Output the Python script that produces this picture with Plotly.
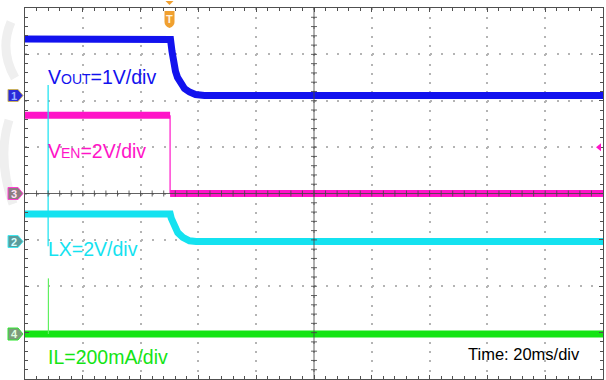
import plotly.graph_objects as go

# ---------------- scope settings ----------------
N_DIV_X, N_DIV_Y = 10, 8
T_DIV = 20.0                 # ms per division
T_START = -50.0              # ms at the left graticule edge (trigger at t = 0)
T_END = T_START + N_DIV_X * T_DIV

# ---------------- captured waveforms (t in ms, relative to trigger) ----------------
vout_t = [-50, 0.35, 0.87, 1.38, 2.08, 2.77, 3.81, 5.19, 6.92, 9.0, 12.1, 150]
vout_v = [1.22, 1.21, 0.95, 0.71, 0.52, 0.39, 0.26, 0.15, 0.075, 0.02, 0.0, 0.0]

ven_high_t = [-50, 0.2]
ven_high_v = [3.37, 3.37]
ven_low_t = [0.2, 150]
ven_low_v = [0.0, 0.0]
ven_edge_t = [0.2, 0.2]
ven_edge_v = [3.37, 0.0]

lx_t = [-50, 0.24, 0.59, 1.73, 2.87, 4.6, 6.92, 9.2, 150]
lx_v = [1.19, 1.19, 1.01, 0.64, 0.38, 0.18, 0.03, 0.0, 0.0]
lx_spike_t = [-42.0, -42.0]
lx_spike_v = [6.75, -0.2]

il_t = [-50, 150]
il_a = [0.0, 0.0]
il_spike_t = [-41.9, -41.9]
il_spike_a = [0.24, 0.0]

ven_trigger_level = 2.0

# channel setup: vertical scale (units/div), ground offset (div from centre), colour
CH = {
    "1": dict(axis="y2", scale=1.0, offset=2.113, color="#1212ee",
              tag="#2a2ad8", tagline="#c8b060", num="#9fb4ff"),
    "2": dict(axis="y3", scale=2.0, offset=-1.035, color="#14e2f0",
              tag="#5a9c9c", tagline="#40e8f0", num="#d8ffff"),
    "3": dict(axis="y", scale=2.0, offset=0.0, color="#ff14c8",
              tag="#8c7c80", tagline="#ff40d0", num="#ffe0f4"),
    "4": dict(axis="y4", scale=0.2, offset=-3.03, color="#14e414",
              tag="#7c9c7c", tagline="#30e830", num="#e0ffe0"),
}


def ax_range(ch):
    s, o = ch["scale"], ch["offset"]
    return [(-N_DIV_Y / 2 - o) * s, (N_DIV_Y / 2 - o) * s]


BAND = 7  # trace thickness (noise band) in px

fig = go.Figure()


def add(t, v, ch, width):
    fig.add_trace(go.Scatter(x=t, y=v, mode="lines", yaxis=ch["axis"],
                             line=dict(color=ch["color"], width=width),
                             hoverinfo="skip", showlegend=False))


# CH3 enable
add(ven_high_t, ven_high_v, CH["3"], BAND)
add(ven_low_t, ven_low_v, CH["3"], BAND)
add(ven_edge_t, ven_edge_v, CH["3"], 1.2)
# CH2 switch node
add(lx_t, lx_v, CH["2"], BAND)
add(lx_spike_t, lx_spike_v, CH["2"], 1.2)
# CH4 inductor current
add(il_t, il_a, CH["4"], BAND)
add(il_spike_t, il_spike_a, dict(CH["4"], color="#60f060"), 1.2)
# CH1 output voltage
add(vout_t, vout_v, CH["1"], BAND)

# ---------------- graticule ----------------
FRAME = "#505050"
GRID = "#b4b4b4"
frame_common = dict(showline=True, linecolor=FRAME, linewidth=1, mirror="ticks",
                    ticks="inside", ticklen=4, tickcolor=FRAME,
                    showticklabels=False, zeroline=False,
                    showgrid=True, gridcolor=GRID, gridwidth=2)

fig.update_layout(
    width=606, height=380,
    margin=dict(l=25, r=3, t=8, b=1),
    paper_bgcolor="white", plot_bgcolor="white",
    xaxis=dict(range=[T_START, T_END], tick0=T_START, dtick=T_DIV,
               griddash="2px,7.275px",
               minor=dict(ticks="inside", ticklen=3, tickcolor=FRAME,
                          tick0=T_START, dtick=T_DIV / 5, showgrid=False),
               **frame_common),
    yaxis=dict(range=ax_range(CH["3"]), tick0=0, dtick=CH["3"]["scale"],
               griddash="2px,9.56px",
               minor=dict(ticks="inside", ticklen=3, tickcolor=FRAME,
                          tick0=0, dtick=CH["3"]["scale"] / 5, showgrid=False),
               **frame_common),
    yaxis2=dict(range=ax_range(CH["1"]), overlaying="y", visible=False),
    yaxis3=dict(range=ax_range(CH["2"]), overlaying="y", visible=False),
    yaxis4=dict(range=ax_range(CH["4"]), overlaying="y", visible=False),
)

shapes = []

# faint background logo strokes in the left margin
for path in ["M -14,-14 Q -26,-42 -10,-70", "M -16,-112 Q -28,-150 -12,-196"]:
    shapes.append(dict(type="path", xref="paper", xanchor=0, xsizemode="pixel",
                       yref="paper", yanchor=1, ysizemode="pixel", path=path,
                       line=dict(color="#efefef", width=9), layer="below"))

t_mid = (T_START + T_END) / 2
CENTER = "rgba(70,70,70,0.85)"
shapes.append(dict(type="line", xref="x", yref="paper", x0=t_mid, x1=t_mid, y0=0, y1=1,
                   line=dict(color=CENTER, width=1), layer="above"))
shapes.append(dict(type="line", xref="paper", yref="y", x0=0, x1=1, y0=0, y1=0,
                   line=dict(color=CENTER, width=1), layer="above"))
# minor ticks on the centre cross
for k in range(1, N_DIV_X * 5):
    t = T_START + k * T_DIV / 5
    shapes.append(dict(type="line", xref="x", yref="y", ysizemode="pixel", yanchor=0,
                       x0=t, x1=t, y0=-3, y1=3,
                       line=dict(color=CENTER, width=1), layer="above"))
for k in range(1, N_DIV_Y * 5):
    v = ax_range(CH["3"])[0] + k * CH["3"]["scale"] / 5
    shapes.append(dict(type="line", xref="x", yref="y", xsizemode="pixel", xanchor=t_mid,
                       x0=-3, x1=3, y0=v, y1=v,
                       line=dict(color=CENTER, width=1), layer="above"))

annotations = []
# channel ground markers on the left edge
for name, ch in CH.items():
    shapes.append(dict(type="path", xref="paper", xanchor=0, xsizemode="pixel",
                       yref=ch["axis"], yanchor=0, ysizemode="pixel",
                       path="M -17,6 L -7,6 L -2,0 L -7,-6 L -17,-6 Z",
                       fillcolor=ch["tag"], line=dict(color=ch["tagline"], width=1),
                       layer="above"))
    annotations.append(dict(text="<b>%s</b>" % name, xref="paper", x=0, xshift=-11,
                            yref=ch["axis"], y=0, showarrow=False,
                            font=dict(family="Arial, Liberation Sans", size=11, color=ch["num"]),
                            xanchor="center", yanchor="middle"))

# trigger position marker
TRIG = "#f0a030"
shapes.append(dict(type="path", xref="x", xanchor=0, xsizemode="pixel",
                   yref="paper", yanchor=1, ysizemode="pixel",
                   path="M -4,7 L 4,7 L 0,3 Z", fillcolor=TRIG, line=dict(width=0),
                   layer="above"))
shapes.append(dict(type="path", xref="x", xanchor=0, xsizemode="pixel",
                   yref="paper", yanchor=1, ysizemode="pixel",
                   path="M -5,-3 L 5,-3 L 5,-14 Q 5,-18 0,-20 Q -5,-18 -5,-14 Z",
                   fillcolor=TRIG, line=dict(width=0), layer="above"))
annotations.append(dict(text="<b>T</b>", xref="x", x=0, yref="paper", y=1, yshift=-11,
                        showarrow=False, xanchor="center", yanchor="middle",
                        font=dict(family="Arial, Liberation Sans", size=11, color="#fff4e0")))

# trigger level marker on CH3
shapes.append(dict(type="path", xref="paper", xanchor=1, xsizemode="pixel",
                   yref="y", yanchor=ven_trigger_level, ysizemode="pixel",
                   path="M -7,0 L -2,4 L -2,-4 Z", fillcolor=CH["3"]["color"],
                   line=dict(width=0), layer="above"))

# ---------------- labels ----------------
PL, PW, PB, PH = 25, 578, 379, 371


def px(x):
    return (x - PL) / PW


def py(y):
    return (PB - y) / PH


FONT = "Arial, Liberation Sans, sans-serif"
labels = [
    ('V<span style="font-size:14px">OUT</span>=1V/div', 46, 77, CH["1"]["color"], 19.5),
    ('V<span style="font-size:14px">EN</span>=2V/div', 46, 151, CH["3"]["color"], 19.5),
    ("LX=2V/div", 46, 249, CH["2"]["color"], 19.5),
    ("IL=200mA/div", 46, 357, CH["4"]["color"], 19.5),
    ("Time: 20ms/div", 466, 354, "#000000", 16.5),
]
for text, x, y, color, size in labels:
    annotations.append(dict(text=text, xref="paper", yref="paper", x=px(x), y=py(y),
                            xanchor="left", yanchor="middle", showarrow=False,
                            font=dict(family=FONT, size=size, color=color)))

fig.update_layout(shapes=shapes, annotations=annotations)
fig.write_html("out.html")
